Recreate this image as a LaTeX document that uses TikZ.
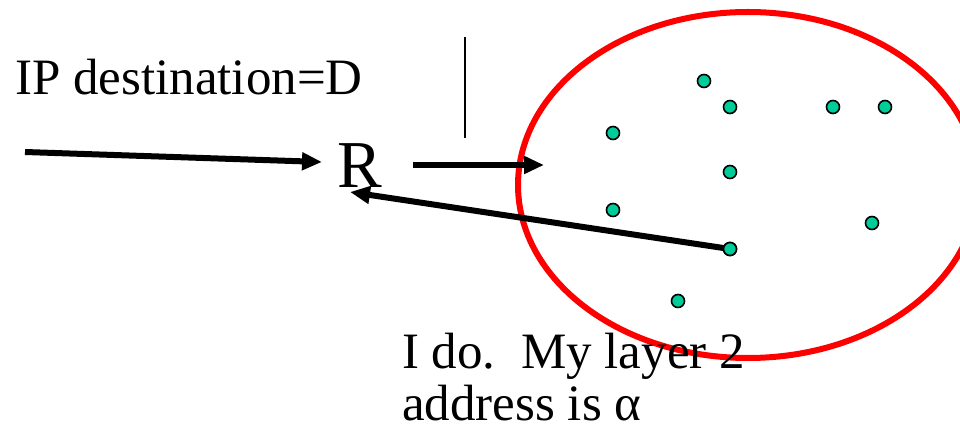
\documentclass[tikz,border=0pt]{standalone}
\usepackage{fontspec}
\setmainfont{Liberation Serif}
\usetikzlibrary{arrows.meta}
\definecolor{dotgreen}{HTML}{00CC99}
\begin{document}
\begin{tikzpicture}[x=1pt,y=-1pt,
  arr/.style={line width=6pt,-{Triangle[length=20pt,width=17pt]}},
  host/.style={circle,draw=black,line width=1.6pt,fill=dotgreen,minimum size=13pt,inner sep=0pt},
  lbl/.style={font=\fontsize{51}{53}\selectfont,inner sep=0pt,anchor=base west}]
\useasboundingbox (0,0) rectangle (960,435);
% network cloud
\draw[red,line width=6pt] (748,185) ellipse [x radius=230,y radius=173];
% labels
\node[lbl] (ip) at (15,95) {IP destination=D};
\node[font=\fontsize{67}{67}\selectfont,inner sep=0pt,anchor=base west] (R) at (337,188) {R};
\node[lbl] (l1) at (402,368) {I do.\ \ My layer 2};
\node[lbl] (l2) at (402,420) {address is α};
% vertical line
\coordinate (vt) at (465,37);
\coordinate (vb) at (465,138);
\draw[line width=1.5pt] (vt) -- (vb);
% arrows
\coordinate (src) at (25,152);
\coordinate (Rin) at (322,162);
\coordinate (Rout) at (413,165);
\coordinate (cl) at (544,165);
\coordinate (Rback) at (350,192);
\draw[arr] (src) -- (Rin);
\draw[arr] (Rout) -- (cl);
% hosts
\node[host] (d9) at (730,249) {};
\draw[arr] (d9.center) -- (Rback);
\node[host] at (730,249) {};
\node[host] (d1) at (704,81) {};
\node[host] (d2) at (730,107) {};
\node[host] (d3) at (833,107) {};
\node[host] (d4) at (885,107) {};
\node[host] (d5) at (613,133) {};
\node[host] (d6) at (730,172) {};
\node[host] (d7) at (613,210) {};
\node[host] (d8) at (872,223) {};
\node[host] (d10) at (678,301) {};
\end{tikzpicture}
\end{document}
